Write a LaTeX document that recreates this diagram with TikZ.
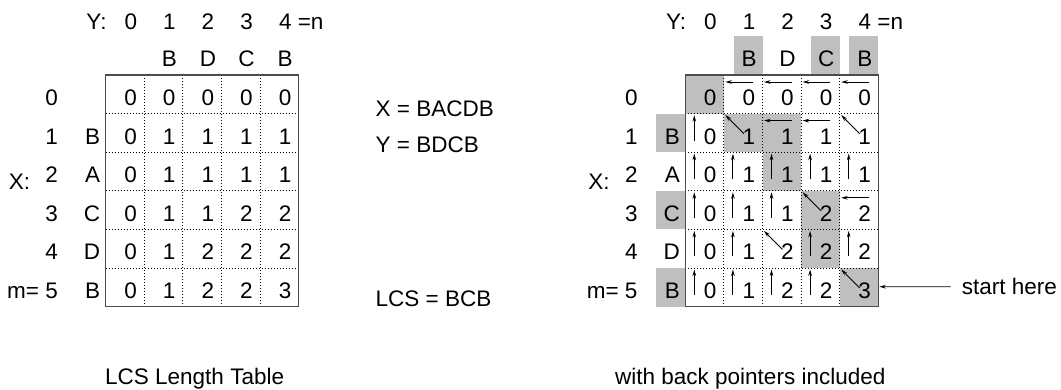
\documentclass[tikz,border=0pt]{standalone}
\usepackage{fontspec}
\setmainfont{Liberation Sans}
\usetikzlibrary{arrows.meta}
\newcommand\lcstable[1]{%
  \foreach \k in {1,...,4} \draw[gridline] (\k*\cs,0) -- (\k*\cs,6*\cs);
  \foreach \k in {1,...,5} \draw[gridline] (0,\k*\cs) -- (5*\cs,\k*\cs);
  \draw[frame] (0,0) rectangle (5*\cs,6*\cs);
  \foreach \r/\vals in {0/{0,0,0,0,0},1/{0,1,1,1,1},2/{0,1,1,1,1},3/{0,1,1,2,2},4/{0,1,2,2,2},5/{0,1,2,2,3}}{
    \foreach \v [count=\c from 0] in \vals {
      \coordinate (#1-nw-\r-\c) at (\c*\cs,\r*\cs);
      \node[num] (#1-\r-\c) at ({(\c+1)*\cs-7.2},{\r*\cs+30.5}) {\v};
    }
  }
  \foreach \r/\l in {1/B,2/A,3/C,4/D,5/B}
    \node[txt,anchor=base east] (#1-x\r) at (-5.3,{\r*\cs+30.5}) {\l};
  \foreach \r in {0,...,4}
    \node[txt] (#1-i\r) at (-54,{\r*\cs+30.5}) {\r};
  \node[txt,anchor=base east] (#1-i5) at (-47.7,{5*\cs+30.5}) {m= 5};
  \node[txt] (#1-X) at (-86.2,114) {X:};
  \node[txt,anchor=base east] (#1-Y) at (1,-45.3) {Y:};
  \foreach \c in {0,...,3}
    \node[txt] (#1-j\c) at ({(\c+1)*\cs-13.5},-45.3) {\c};
  \node[txt,anchor=base west] (#1-j4) at ({5*\cs-19.8},-45.3) {4 =n};
  \foreach \c/\l in {1/B,2/D,3/C,4/B}
    \node[txt] (#1-y\c) at ({(\c+1)*\cs-13.5},-8.7) {\l};
}
\begin{document}
\begin{tikzpicture}[x=1pt,y=-1pt,
  txt/.style={font=\fontsize{22.5}{27}\selectfont, inner sep=0pt, anchor=base},
  num/.style={txt, anchor=base east},
  gridline/.style={line width=0.9pt, dash pattern=on 0.9pt off 2.1pt},
  frame/.style={draw=black!70, line width=1.3pt},
  shade/.style={fill=black!25},
  ptr/.style={line width=0.9pt, -{Stealth[length=6.5pt,width=3.6pt]}}]
\useasboundingbox (0,0) rectangle (1061,389);
\def\cs{38.6}
% left table
\begin{scope}[shift={(105.7,75)}]
  \lcstable{L}
\end{scope}
% right table
\begin{scope}[shift={(685.3,75)}]
  \foreach \c in {1,3,4} \fill[shade] ({(\c+1)*\cs-29},-39) rectangle ({(\c+1)*\cs},-1);
  \foreach \r in {1,3,5} \fill[shade] (-29,\r*\cs) rectangle (0,{(\r+1)*\cs});
  \foreach \r/\c in {0/0,1/1,1/2,2/2,3/3,4/3,5/4}
    \fill[shade] (\c*\cs,\r*\cs) rectangle ({(\c+1)*\cs},{(\r+1)*\cs});
  \lcstable{R}
  \foreach \r/\c in {1/0,2/0,3/0,4/0,5/0,2/1,3/1,4/1,5/1,2/2,3/2,5/2,2/3,4/3,5/3,2/4,4/4}
    \draw[ptr] ([shift={(9,27)}]R-nw-\r-\c) -- ([shift={(9,1.5)}]R-nw-\r-\c);
  \foreach \r/\c in {0/1,0/2,0/3,0/4,1/2,1/3,3/4}
    \draw[ptr] ([shift={(29,7)}]R-nw-\r-\c) -- ([shift={(1.5,7)}]R-nw-\r-\c);
  \foreach \r/\c in {1/1,1/4,3/3,4/2,5/4}
    \draw[ptr] ([shift={(20,20)}]R-nw-\r-\c) -- ([shift={(1.5,1.5)}]R-nw-\r-\c);
  \coordinate (tip) at (5*\cs+1,5*\cs+18.7);
\end{scope}
% middle texts
\node[txt,anchor=base west] (xs) at (375.5,116) {X = BACDB};
\node[txt,anchor=base west] (ys) at (375.5,152.5) {Y = BDCB};
\node[txt,anchor=base west] (lcs) at (375.5,306) {LCS = BCB};
% start here
\node[txt,anchor=west] (start) at (961.7,286.7) {start here};
\draw[ptr] ([xshift=-11pt]start.west) -- (tip);
% captions
\node[txt,anchor=base west] (capL) at (105,384) {LCS Length Table};
\node[txt,anchor=base west] (capR) at (615,384) {with back pointers included};
\end{tikzpicture}
\end{document}
